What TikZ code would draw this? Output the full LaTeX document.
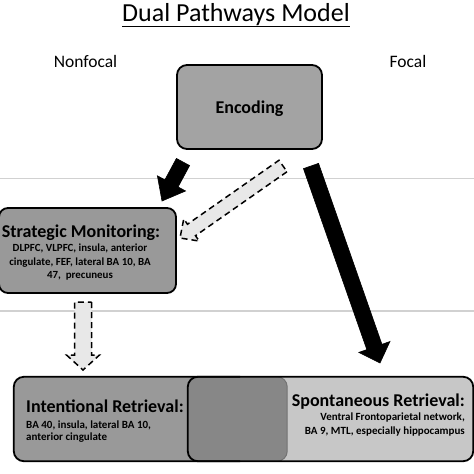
\documentclass[tikz,border=0pt]{standalone}
\usepackage{fontspec}
\setmainfont{Carlito}
\usetikzlibrary{calc}
\definecolor{cEnc}{gray}{0.64}
\definecolor{cStr}{gray}{0.60}
\definecolor{cInt}{gray}{0.60}
\definecolor{cOvl}{gray}{0.53}
\definecolor{cSpo}{gray}{0.78}
\definecolor{cDash}{gray}{0.91}
\definecolor{cRule}{gray}{0.82}
\newcommand\fatarrow[6]{%
  \coordinate (fa-b) at ($(#3)!#6!(#2)$);
  \draw[#1] ($(#2)!#4!90:(#3)$) -- ($(fa-b)!#4!-90:(#2)$) -- ($(fa-b)!#5!-90:(#2)$) -- (#3)
    -- ($(fa-b)!#5!90:(#2)$) -- ($(fa-b)!#4!90:(#2)$) -- ($(#2)!#4!-90:(#3)$) -- cycle;
}
\tikzset{
  box/.style={draw=black, line width=1.8pt, rounded corners=10pt, inner sep=0pt},
  boldarrow/.style={fill=black, draw=black, line width=0.6pt, line join=miter},
  dasharrow/.style={fill=cDash, draw=black, line width=1.5pt, dash pattern=on 6pt off 4pt, line join=miter},
  rule/.style={draw=cRule, line width=1.2pt},
  lbl/.style={inner sep=0pt, anchor=base},
}
\begin{document}
\begin{tikzpicture}[x=1pt,y=-1pt]
\useasboundingbox (0,0) rectangle (474,474);
\fill[white] (0,0) rectangle (474,474);
% rules
\coordinate (r1a) at (0,178.5); \coordinate (r1b) at (474,178.5);
\coordinate (r2a) at (0,311); \coordinate (r2b) at (474,311);
\draw[rule] (r1a) -- (r1b);
\draw[rule] (r2a) -- (r2b);
% title and side labels
\node[lbl, font=\fontsize{26}{30}\selectfont] (title) at (236,21) {\underline{Dual Pathways Model}};
\node[lbl, font=\fontsize{17.5}{20}\selectfont] (nonfocal) at (85.5,67.5) {Nonfocal};
\node[lbl, font=\fontsize{17.5}{20}\selectfont] (focal) at (408,67.5) {Focal};
% encoding
\node[box, fill=cEnc, minimum width=145pt, minimum height=84pt] (enc) at (249.5,107) {};
\node[lbl, font=\fontsize{18}{21}\selectfont\bfseries] (enctext) at (249.5,113) {Encoding};
% strategic monitoring
\node[box, fill=cStr, rounded corners=9pt, minimum width=177pt, minimum height=85pt] (strat) at (87.5,250.5) {};
\node[lbl, font=\fontsize{18}{21}\selectfont\bfseries] (strattitle) at (81,237) {Strategic Monitoring:};
\node[lbl, align=center, font=\fontsize{10.9}{13.3}\selectfont\bfseries] (stratsub) at (80,278.5)
  {DLPFC, VLPFC, insula, anterior\\cingulate, FEF, lateral BA 10, BA\\47,\ \ precuneus};
% bottom boxes
\node[inner sep=0pt, minimum width=273pt, minimum height=84pt] (inten) at (150.5,419) {};
\node[inner sep=0pt, minimum width=285pt, minimum height=84pt] (spont) at (330.5,419) {};
\fill[cInt, rounded corners=10pt] (inten.north west) rectangle (inten.south east);
\fill[cSpo, rounded corners=10pt] (spont.north west) rectangle (spont.south east);
\begin{scope}
  \clip[rounded corners=10pt] (inten.north west) rectangle (inten.south east);
  \fill[cOvl, rounded corners=10pt] (spont.north west) rectangle (spont.south east);
\end{scope}
\begin{scope}
  \clip (240,360) rectangle (300,470);
  \draw[draw=black!55, line width=1pt, rounded corners=10pt] (inten.north west) rectangle (inten.south east);
\end{scope}
\draw[black, line width=1.8pt, rounded corners=10pt] (spont.north west) rectangle (spont.south east);
\begin{scope}
  \clip (0,360) rectangle (240,470);
  \draw[black, line width=1.8pt, rounded corners=10pt] (inten.north west) rectangle (inten.south east);
\end{scope}
\node[lbl, anchor=base west, font=\fontsize{18}{21}\selectfont\bfseries] (inttitle) at (26,412) {Intentional Retrieval:};
\node[lbl, anchor=base west, align=left, font=\fontsize{11}{12}\selectfont\bfseries] (intsub) at (26,440)
  {BA 40, insula, lateral BA 10,\\anterior cingulate};
\node[lbl, anchor=base east, font=\fontsize{18}{21}\selectfont\bfseries] (spotitle) at (465,406) {Spontaneous Retrieval:};
\node[lbl, anchor=base east, align=right, font=\fontsize{11}{14}\selectfont\bfseries] (sposub) at (465,434)
  {Ventral Frontoparietal network,\\BA 9, MTL, especially hippocampus};
% arrows
\coordinate (a1t) at (183,162); \coordinate (a1h) at (162,201);
\coordinate (a2t) at (283,166); \coordinate (a2h) at (180,238);
\coordinate (a3t) at (311,166); \coordinate (a3h) at (380,363);
\coordinate (a4t) at (83,302);  \coordinate (a4h) at (83,370);
\fatarrow{boldarrow}{a1t}{a1h}{7.5pt}{16pt}{20pt}
\fatarrow{dasharrow}{a2t}{a2h}{7pt}{13.5pt}{14pt}
\fatarrow{boldarrow}{a3t}{a3h}{8pt}{16.5pt}{17pt}
\fatarrow{dasharrow}{a4t}{a4h}{8.5pt}{16.5pt}{15pt}
\end{tikzpicture}
\end{document}
